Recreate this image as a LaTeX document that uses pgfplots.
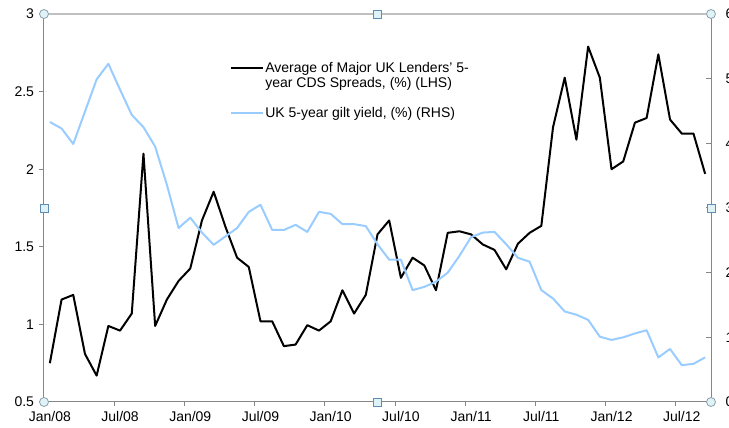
\documentclass[border=0pt]{standalone}
\usepackage{pgfplots}
\pgfplotsset{compat=1.18}
\usepackage{fontspec}
\setmainfont{Liberation Sans}
\definecolor{gilt}{RGB}{153,204,255}
\definecolor{axgray}{RGB}{134,134,134}
\definecolor{topgray}{RGB}{192,192,192}
\definecolor{hfill}{RGB}{222,242,247}
\definecolor{hcirc}{RGB}{140,160,170}
\definecolor{hsq}{RGB}{95,140,180}

\pgfplotstableread{
i v
0 0.75
1 1.16
2 1.19
3 0.81
4 0.67
5 0.99
6 0.96
7 1.07
8 2.10
9 0.99
10 1.16
11 1.28
12 1.36
13 1.67
14 1.855
15 1.63
16 1.43
17 1.37
18 1.02
19 1.02
20 0.86
21 0.87
22 0.995
23 0.96
24 1.02
25 1.22
26 1.07
27 1.19
28 1.58
29 1.67
30 1.30
31 1.43
32 1.38
33 1.22
34 1.59
35 1.60
36 1.58
37 1.515
38 1.48
39 1.355
40 1.52
41 1.59
42 1.635
43 2.27
44 2.59
45 2.19
46 2.79
47 2.59
48 2.00
49 2.05
50 2.30
51 2.33
52 2.74
53 2.32
54 2.23
55 2.23
56 1.97
}\cds

\pgfplotstableread{
i v
0 4.33
1 4.23
2 3.99
3 4.49
4 4.99
5 5.23
6 4.83
7 4.44
8 4.25
9 3.95
10 3.36
11 2.69
12 2.85
13 2.62
14 2.43
15 2.56
16 2.69
17 2.94
18 3.05
19 2.66
20 2.66
21 2.74
22 2.63
23 2.94
24 2.91
25 2.75
26 2.75
27 2.72
28 2.44
29 2.20
30 2.20
31 1.73
32 1.78
33 1.86
34 2.00
35 2.26
36 2.55
37 2.62
38 2.63
39 2.44
40 2.23
41 2.17
42 1.73
43 1.60
44 1.40
45 1.35
46 1.27
47 1.01
48 0.96
49 1.00
50 1.06
51 1.11
52 0.69
53 0.82
54 0.57
55 0.59
56 0.69
}\gilt

\pgfplotsset{
  common/.style={
    scale only axis, width=667pt, height=388pt,
    xmin=-0.5, xmax=56.5,
    at={(0pt,0pt)}, anchor=south west,
    /pgf/number format/assume math mode=true,
    tick label style={font=\fontsize{14}{16}\selectfont, text=black},
    axis line style={axgray, line width=1pt},
    major tick style={axgray, line width=1pt},
    major tick length=4.5pt,
  }
}

\begin{document}
\begin{tikzpicture}
\begin{axis}[common, name=a1,
  ymin=0.5, ymax=3,
  ytick={0.5,1,1.5,2,2.5,3},
  yticklabels={0.5,1,1.5,2,2.5,3},
  axis x line*=bottom, axis y line*=left,
  tick align=outside,
  xtick={-0.5,5.5,11.5,17.5,23.5,29.5,35.5,41.5,47.5,53.5},
  xticklabels={Jan/08,Jul/08,Jan/09,Jul/09,Jan/10,Jul/10,Jan/11,Jul/11,Jan/12,Jul/12},
  xticklabel style={xshift=5.85pt, yshift=-1pt},
  yticklabel style={xshift=-2pt},
]
\addplot[black, line width=2pt, line join=round] table[x=i, y=v] {\cds};
\end{axis}
\begin{axis}[common,
  ymin=0, ymax=6,
  ytick={0,1,2,3,4,5,6},
  axis y line*=right, axis x line=none,
  tick align=inside,
  yticklabel style={xshift=11pt},
  legend cell align=left,
  legend image code/.code={\draw[#1] (0pt,0pt) -- (32pt,0pt);},
  legend style={at={(0.279,0.88)}, anchor=north west, draw=none, fill=none,
    font=\fontsize{14}{16}\selectfont, inner sep=0pt, row sep=31pt,
    nodes={inner sep=1pt}},
]
\addlegendimage{black, line width=2pt}
\addlegendentry{\begin{tabular}[t]{@{}l@{}}Average of Major UK Lenders’ 5-\\[-1pt]year CDS Spreads, (\%) (LHS)\end{tabular}}
\addplot[gilt, line width=2pt, line join=round] table[x=i, y=v] {\gilt};
\addlegendentry{UK 5-year gilt yield, (\%) (RHS)}
\end{axis}
\draw[topgray, line width=1.5pt] (a1.north west) -- (a1.north east);
\foreach \p in {a1.south west, a1.north west, a1.south east, a1.north east}
  \node[circle, draw=hcirc, fill=hfill, minimum size=9pt, inner sep=0pt, line width=0.8pt] at (\p) {};
\foreach \p in {a1.west, a1.east, a1.north, a1.south}
  \node[rectangle, draw=hsq, fill=hfill, minimum size=8pt, inner sep=0pt, line width=0.8pt] at (\p) {};
\pgfresetboundingbox
\useasboundingbox (-44pt,-26pt) rectangle (685pt,402pt);
\end{tikzpicture}
\end{document}
